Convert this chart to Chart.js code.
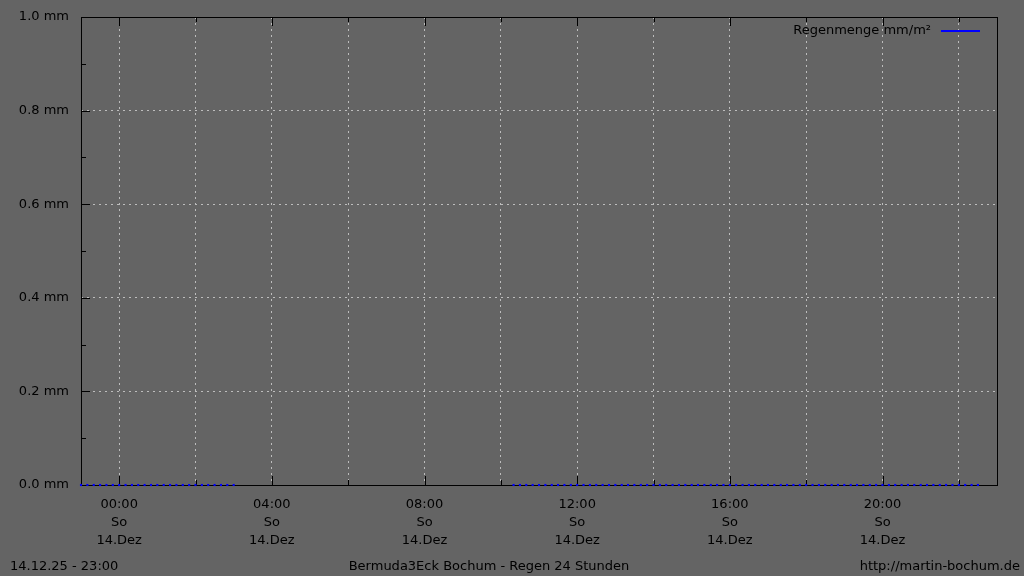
<!DOCTYPE html>
<html>
<head>
<meta charset="utf-8">
<script src="https://cdn.jsdelivr.net/npm/chart.js@4.4.0/dist/chart.umd.min.js"></script>
<style>
    html, body { margin: 0; padding: 0; background: #646464; }
    #rain-chart { display: block; }
</style>
</head>
<body>
<canvas id="rain-chart" width="1024" height="576"></canvas>
<script>
// Rain readings (10 minute steps), night segment and day segment
const timesNight = ['23:00', '23:10', '23:20', '23:30', '23:40', '23:50',
    '00:00', '00:10', '00:20', '00:30', '00:40', '00:50',
    '01:00', '01:10', '01:20', '01:30', '01:40', '01:50',
    '02:00', '02:10', '02:20', '02:30', '02:40', '02:50', '03:00'];
const rainNight = [0, 0, 0, 0, 0, 0, 0, 0, 0, 0, 0, 0, 0, 0, 0, 0, 0, 0, 0, 0, 0, 0, 0, 0, 0];

const timesDay = ['10:20', '10:30', '10:40', '10:50',
    '11:00', '11:10', '11:20', '11:30', '11:40', '11:50',
    '12:00', '12:10', '12:20', '12:30', '12:40', '12:50',
    '13:00', '13:10', '13:20', '13:30', '13:40', '13:50',
    '14:00', '14:10', '14:20', '14:30', '14:40', '14:50',
    '15:00', '15:10', '15:20', '15:30', '15:40', '15:50',
    '16:00', '16:10', '16:20', '16:30', '16:40', '16:50',
    '17:00', '17:10', '17:20', '17:30', '17:40', '17:50',
    '18:00', '18:10', '18:20', '18:30', '18:40', '18:50',
    '19:00', '19:10', '19:20', '19:30', '19:40', '19:50',
    '20:00', '20:10', '20:20', '20:30', '20:40', '20:50',
    '21:00', '21:10', '21:20', '21:30', '21:40', '21:50',
    '22:00', '22:10', '22:20', '22:30'];
const rainDay = [0, 0, 0, 0,
    0, 0, 0, 0, 0, 0,
    0, 0, 0, 0, 0, 0,
    0, 0, 0, 0, 0, 0,
    0, 0, 0, 0, 0, 0,
    0, 0, 0, 0, 0, 0,
    0, 0, 0, 0, 0, 0,
    0, 0, 0, 0, 0, 0,
    0, 0, 0, 0, 0, 0,
    0, 0, 0, 0, 0, 0,
    0, 0, 0, 0, 0, 0,
    0, 0, 0, 0, 0, 0,
    0, 0, 0, 0];

// Axis ticks (hours relative to 14.Dez 00:00)
const xGridHours = [0, 2, 4, 6, 8, 10, 12, 14, 16, 18, 20, 22];
const xLabelHours = [0, 4, 8, 12, 16, 20];
const xTimeLabels = ['00:00', '04:00', '08:00', '12:00', '16:00', '20:00'];
const xDayLabel = 'So';
const xDateLabel = '14.Dez';

const yTicks = [0, 0.2, 0.4, 0.6, 0.8, 1.0];
const yTickLabels = ['0.0 mm', '0.2 mm', '0.4 mm', '0.6 mm', '0.8 mm', '1.0 mm'];
const yMinorTicks = [0.1, 0.3, 0.5, 0.7, 0.9];

const seriesLabel = 'Regenmenge mm/m²';
const footerLeft = '14.12.25 - 23:00';
const footerCenter = 'Bermuda3Eck Bochum - Regen 24 Stunden';
const footerRight = 'http://martin-bochum.de';

const FONT = '"DejaVu Sans", sans-serif';
const TEXT_COLOR = '#000000';
const GRID_COLOR = '#bdbdbd';

// "HH:MM" -> hours; 23:xx belongs to the previous day
function toHours(t) {
    const parts = t.split(':');
    let h = parseInt(parts[0], 10) + parseInt(parts[1], 10) / 60;
    if (h >= 23) h -= 24;
    return h;
}

function buildPoints(times, values) {
    return times.map((t, i) => ({ x: toHours(t), y: values[i] }));
}

const rainPoints = buildPoints(timesNight, rainNight).concat(buildPoints(timesDay, rainDay));

// Border, inward tick marks, legend and footer texts
const gnuplotFrame = {
    id: 'gnuplotFrame',
    beforeDatasetsDraw(chart) {
        const { ctx, chartArea, scales } = chart;
        const { left, right, top, bottom } = chartArea;
        ctx.save();
        ctx.strokeStyle = '#000000';
        ctx.lineWidth = 1;
        ctx.strokeRect(Math.round(left) + 0.5, Math.round(top) + 0.5,
            Math.round(right - left), Math.round(bottom - top));

        ctx.beginPath();
        xGridHours.forEach(h => {
            const px = Math.round(scales.x.getPixelForValue(h)) + 0.5;
            const len = xLabelHours.includes(h) ? 9 : 5;
            ctx.moveTo(px, bottom);
            ctx.lineTo(px, bottom - len);
            ctx.moveTo(px, top);
            ctx.lineTo(px, top + len);
        });
        yTicks.forEach(v => {
            const py = Math.round(scales.y.getPixelForValue(v)) + 0.5;
            ctx.moveTo(left, py);
            ctx.lineTo(left + 9, py);
        });
        yMinorTicks.forEach(v => {
            const py = Math.round(scales.y.getPixelForValue(v)) + 0.5;
            ctx.moveTo(left, py);
            ctx.lineTo(left + 5, py);
        });
        ctx.stroke();
        ctx.restore();
    },
    afterDraw(chart) {
        const { ctx, chartArea } = chart;
        ctx.save();
        ctx.font = '13px ' + FONT;
        ctx.fillStyle = TEXT_COLOR;
        ctx.textBaseline = 'middle';

        // Legend (text first, then line sample)
        const ds = chart.data.datasets[0];
        ctx.textAlign = 'right';
        ctx.fillText(ds.label, chartArea.right - 66, 31);
        ctx.strokeStyle = ds.borderColor;
        ctx.lineWidth = 2;
        ctx.beginPath();
        ctx.moveTo(chartArea.right - 56, 31);
        ctx.lineTo(chartArea.right - 17, 31);
        ctx.stroke();

        // Footer
        ctx.textAlign = 'left';
        ctx.fillText(footerLeft, 10, 567);
        ctx.textAlign = 'center';
        ctx.fillText(footerCenter, 489, 567);
        ctx.textAlign = 'right';
        ctx.fillText(footerRight, 1020, 567);
        ctx.restore();
    }
};

const ctx = document.getElementById('rain-chart').getContext('2d');
const rainChart = new Chart(ctx, {
    type: 'scatter',
    data: {
        datasets: [
            {
                label: seriesLabel,
                data: rainPoints,
                showLine: false,
                borderColor: '#0000ff',
                backgroundColor: '#0000ff',
                pointStyle: 'rect',
                pointRadius: 1.5,
                pointBorderWidth: 0,
                pointHoverRadius: 1.5,
                clip: false
            }
        ]
    },
    options: {
        responsive: false,
        animation: false,
        devicePixelRatio: 1,
        layout: {
            padding: { top: 17, right: 27, left: 0, bottom: 0 }
        },
        scales: {
            x: {
                type: 'linear',
                min: -1,
                max: 23,
                afterBuildTicks: axis => {
                    axis.ticks = xGridHours.map(h => ({ value: h }));
                },
                afterFit: axis => {
                    axis.height = 91;
                    axis.paddingLeft = 0;
                    axis.paddingRight = 0;
                },
                grid: {
                    color: GRID_COLOR,
                    lineWidth: 1,
                    drawTicks: false
                },
                border: { display: false, dash: [2, 4] },
                ticks: {
                    autoSkip: false,
                    maxRotation: 0,
                    padding: 11,
                    color: TEXT_COLOR,
                    font: { family: FONT, size: 13, lineHeight: 1.385 },
                    callback: value => {
                        const idx = xLabelHours.indexOf(value);
                        return idx >= 0 ? [xTimeLabels[idx], xDayLabel, xDateLabel] : '';
                    }
                }
            },
            y: {
                min: 0,
                max: 1,
                afterBuildTicks: axis => {
                    axis.ticks = yTicks.map(v => ({ value: v }));
                },
                afterFit: axis => {
                    axis.width = 81;
                    axis.paddingTop = 0;
                    axis.paddingBottom = 0;
                },
                grid: {
                    color: GRID_COLOR,
                    lineWidth: 1,
                    drawTicks: false
                },
                border: { display: false, dash: [2, 4] },
                ticks: {
                    padding: 12,
                    color: TEXT_COLOR,
                    font: { family: FONT, size: 13 },
                    callback: (value, index) => yTickLabels[index]
                }
            }
        },
        plugins: {
            legend: { display: false },
            tooltip: { enabled: false }
        }
    },
    plugins: [gnuplotFrame]
});
</script>
</body>
</html>
